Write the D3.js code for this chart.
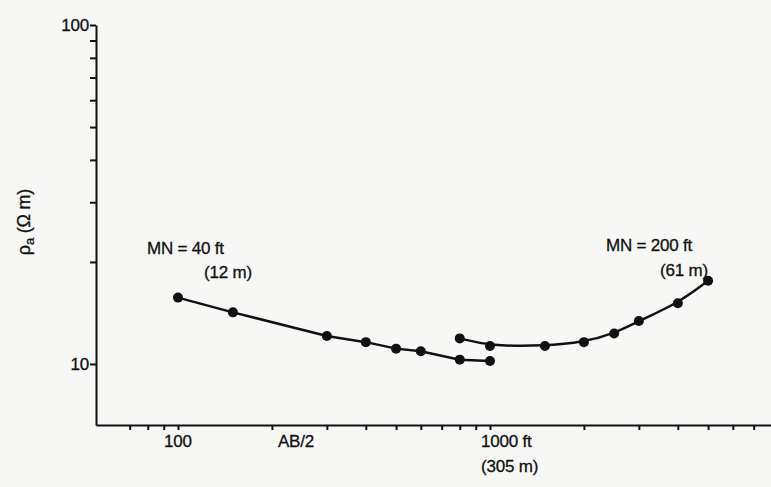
<!DOCTYPE html>
<html>
<head>
<meta charset="utf-8">
<script src="https://cdn.jsdelivr.net/npm/d3@7"></script>
<style>
  body { margin: 0; background: #f7f7f5; }
  svg { display: block; font-family: "Liberation Sans", Arial, sans-serif; }
  text { fill: #111; stroke: #111; stroke-width: 0.3px; letter-spacing: -0.2px; }
</style>
</head>
<body>
<div class="canvas"></div>
<script>
// AB/2 spacing (ft) and apparent resistivity (ohm m)
const abMN40 = [100, 150, 300, 400, 500, 600, 800, 1000];
const rhoMN40 = [15.7, 14.2, 12.1, 11.6, 11.1, 10.9, 10.3, 10.2];

const abMN200 = [800, 1000, 1500, 2000, 2500, 3000, 4000, 5000];
const rhoMN200 = [11.9, 11.3, 11.3, 11.6, 12.3, 13.4, 15.1, 17.6];

const xTicks = [70, 80, 90, 100, 200, 300, 400, 500, 600, 700, 800, 900,
  1000, 2000, 3000, 4000, 5000, 6000, 7000, 8000];
const yTicks = [10, 20, 30, 40, 50, 60, 70, 80, 90, 100];
const yTickLabels = { 10: "10", 100: "100" };

const width = 771;
const height = 487;
const fontSize = "17px";

const svg = d3
  .select(".canvas")
  .append("svg")
  .attr("width", width)
  .attr("height", height);

const x = d3.scaleLog().domain([100, 1000]).range([178, 490]);
x.domain([x.invert(96), x.invert(771)]).range([96, 771]);

const y = d3.scaleLog().domain([10, 100]).range([364, 25]);
y.domain([y.invert(425), 100]).range([425, 25]);

const xAxis = svg
  .append("g")
  .attr("transform", "translate(0,425)")
  .call(
    d3.axisBottom(x).tickValues(xTicks).tickFormat("").tickSize(5).tickSizeOuter(0)
  );

const yAxis = svg
  .append("g")
  .attr("transform", "translate(96,0)")
  .call(
    d3.axisLeft(y)
      .tickValues(yTicks)
      .tickFormat((d) => yTickLabels[d] || "")
      .tickSize(6)
      .tickSizeOuter(0)
  );

[xAxis, yAxis].forEach((g) => {
  g.select(".domain").attr("stroke", "#111").attr("stroke-width", 2);
  g.selectAll(".tick line").attr("stroke", "#111").attr("stroke-width", 2);
});
yAxis
  .selectAll(".tick text")
  .attr("x", -7)
  .style("font-size", fontSize)
  .style("font-family", "Liberation Sans, Arial, sans-serif");

// x axis labels
svg.append("text").attr("x", x(100)).attr("y", 447)
  .attr("text-anchor", "middle").style("font-size", fontSize).text("100");
svg.append("text").attr("x", 296).attr("y", 447)
  .attr("text-anchor", "middle").style("font-size", fontSize).text("AB/2");
svg.append("text").attr("x", x(1000) - 9).attr("y", 447)
  .style("font-size", fontSize).text("1000 ft");
svg.append("text").attr("x", x(1000) - 9).attr("y", 472)
  .style("font-size", fontSize).text("(305 m)");

// y axis title
const yTitle = svg
  .append("text")
  .attr("transform", "translate(30,222) rotate(-90)")
  .attr("text-anchor", "middle")
  .style("font-size", "18px");
yTitle.append("tspan").text("ρ");
yTitle.append("tspan").attr("dy", 4).style("font-size", "13px").text("a");
yTitle.append("tspan").attr("dy", -4).text(" (Ω m)");

// series
const series = [
  { ab: abMN40, rho: rhoMN40, curve: d3.curveLinear },
  { ab: abMN200, rho: rhoMN200, curve: d3.curveBasis }
];

series.forEach((s) => {
  const pts = s.ab.map((d, i) => [d, s.rho[i]]);
  svg
    .append("path")
    .datum(pts)
    .attr("fill", "none")
    .attr("stroke", "#111")
    .attr("stroke-width", 2.5)
    .attr("d", d3.line().x((d) => x(d[0])).y((d) => y(d[1])).curve(s.curve));
  svg
    .selectAll(null)
    .data(pts)
    .enter()
    .append("circle")
    .attr("cx", (d) => x(d[0]))
    .attr("cy", (d) => y(d[1]))
    .attr("r", 5)
    .attr("fill", "#111");
});

// annotations
svg.append("text").attr("x", 147).attr("y", 254)
  .style("font-size", fontSize).text("MN = 40 ft");
svg.append("text").attr("x", 204).attr("y", 278)
  .style("font-size", fontSize).text("(12 m)");
svg.append("text").attr("x", 606).attr("y", 251)
  .style("font-size", fontSize).text("MN = 200 ft");
svg.append("text").attr("x", 660).attr("y", 276)
  .style("font-size", fontSize).text("(61 m)");
</script>
</body>
</html>
